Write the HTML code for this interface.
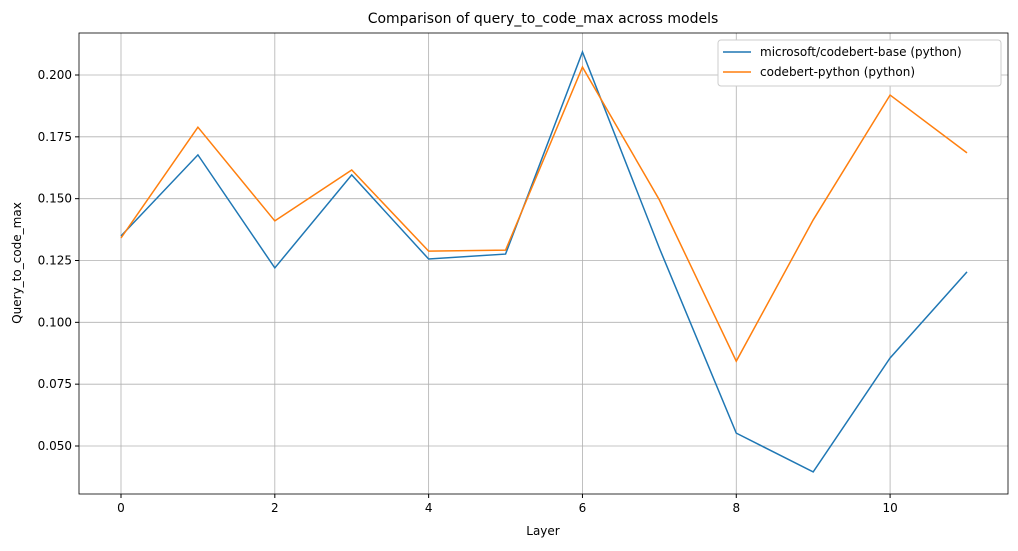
<!DOCTYPE html>
<html><head><meta charset="utf-8"><style>
body{margin:0;background:#fff;font-family:"DejaVu Sans","Liberation Sans",sans-serif;}
svg text{font-family:"DejaVu Sans","Liberation Sans",sans-serif;}
</style></head><body>
<svg id="chart" width="1018" height="547" xmlns="http://www.w3.org/2000/svg"></svg>
<script>
const layers=[0,1,2,3,4,5,6,7,8,9,10,11];
const codebertBase=[0.1349,0.1677,0.1220,0.1596,0.1256,0.1276,0.2093,0.1300,0.0552,0.0395,0.0856,0.1204];
const codebertPython=[0.1341,0.1789,0.1410,0.1616,0.1288,0.1292,0.2032,0.1495,0.0843,0.1414,0.1919,0.1685];
const xTicks=[0,2,4,6,8,10];
const yTicks=[0.050,0.075,0.100,0.125,0.150,0.175,0.200];
const L=79,R=1008,T=33,B=494;
const X=v=>121+(967-121)*v/11;
const Y=v=>446-(v-0.05)*(371/0.15);
const svg=document.getElementById('chart');
const NS='http://www.w3.org/2000/svg';
function mk(t,a,p){const e=document.createElementNS(NS,t);for(const k in a)e.setAttribute(k,a[k]);(p||svg).appendChild(e);return e;}
xTicks.forEach(v=>{
 const g=mk('line',{x1:X(v),x2:X(v),y1:T,y2:B,stroke:'#b0b0b0','stroke-width':0.8});
 
 
 mk('line',{x1:X(v),x2:X(v),y1:B,y2:B+4,stroke:'#000'});
 const t=mk('text',{x:X(v),y:B+18,'text-anchor':'middle','font-size':12});t.textContent=v;
 
 
});
yTicks.forEach(v=>{
 const g=mk('line',{x1:L,x2:R,y1:Y(v),y2:Y(v),stroke:'#b0b0b0','stroke-width':0.8});
 
 
 mk('line',{x1:L-4,x2:L,y1:Y(v),y2:Y(v),stroke:'#000'});
 const t=mk('text',{x:L-7,y:Y(v)+4,'text-anchor':'end','font-size':12});t.textContent=v.toFixed(3);
 
 
});
const fr=mk('rect',{x:L,y:T,width:R-L,height:B-T,fill:'none',stroke:'#000','stroke-width':0.8});


function series(d,c,n){const p=mk('polyline',{points:d.map((v,i)=>X(layers[i])+','+Y(v)).join(' '),fill:'none',stroke:c,'stroke-width':1.5});
 
 }
series(codebertBase,'#1f77b4','series-codebert-base');
series(codebertPython,'#ff7f0e','series-codebert-python');
let t=mk('text',{x:543,y:23,'text-anchor':'middle','font-size':14});t.textContent='Comparison of query_to_code_max across models';


t=mk('text',{x:543,y:535,'text-anchor':'middle','font-size':12});t.textContent='Layer';


t=mk('text',{x:21,y:263,'text-anchor':'middle','font-size':12,transform:'rotate(-90 21 263)'});t.textContent='Query_to_code_max';


const lg=mk('g',{});


mk('rect',{x:718,y:40,width:283,height:46,rx:3,fill:'#fff',stroke:'#ccc'},lg);
[['microsoft/codebert-base (python)','#1f77b4'],['codebert-python (python)','#ff7f0e']].forEach((e,i)=>{
 const y=52+i*20;
 mk('line',{x1:723,x2:751,y1:y,y2:y,stroke:e[1],'stroke-width':1.5},lg);
 const tt=mk('text',{x:760,y:y+4,'font-size':12},lg);tt.textContent=e[0];
 
 
});
</script>
</body></html>
